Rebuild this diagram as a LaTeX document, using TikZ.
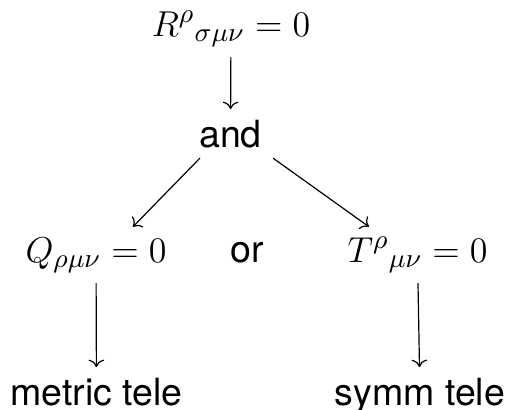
\documentclass[tikz,border=0pt]{standalone}
\usepackage{amsmath,amssymb}
\usepackage{fontspec}
\setsansfont{TeX Gyre Heros}
\usetikzlibrary{arrows.meta,calc,positioning}

\begin{document}
\begin{tikzpicture}[x=0.1172mm,y=-0.1172mm,
  eqn/.style={anchor=base,font=\fontsize{12.2}{15}\selectfont},
  word/.style={anchor=base,font=\fontsize{12.5}{15}\selectfont\sffamily}]
  \useasboundingbox (0,0) rectangle (508,409);
  % curvature condition
  \node[eqn] (riem) at (231,36) {$R^{\rho}{}_{\sigma\mu\nu}=0$};
  \node[word] (andn) at (230.5,147) {and};
  \draw[->] (riem) -- (andn);
  % the two branches
  \node[eqn] (nonmet) at (96,262) {$Q_{\rho\mu\nu}=0$};
  \node[word] (orn) at (247.5,262) {or};
  \node[eqn] (tors) at (417.5,262) {$T^{\rho}{}_{\mu\nu}=0$};
  \draw[->] ([xshift=-10.2pt]andn.south) -- ([xshift=12.3pt]nonmet.north);
  \draw[->] ([xshift=14.2pt]andn.south) -- ([xshift=-16.2pt]tors.north);
  % resulting theories
  \node[word] (mtele) at (96.5,405) {metric tele};
  \node[word] (stele) at (420,405) {symm tele};
  \draw[->] (nonmet) -- (mtele);
  \draw[->] (tors) -- (stele);
\end{tikzpicture}
\end{document}
